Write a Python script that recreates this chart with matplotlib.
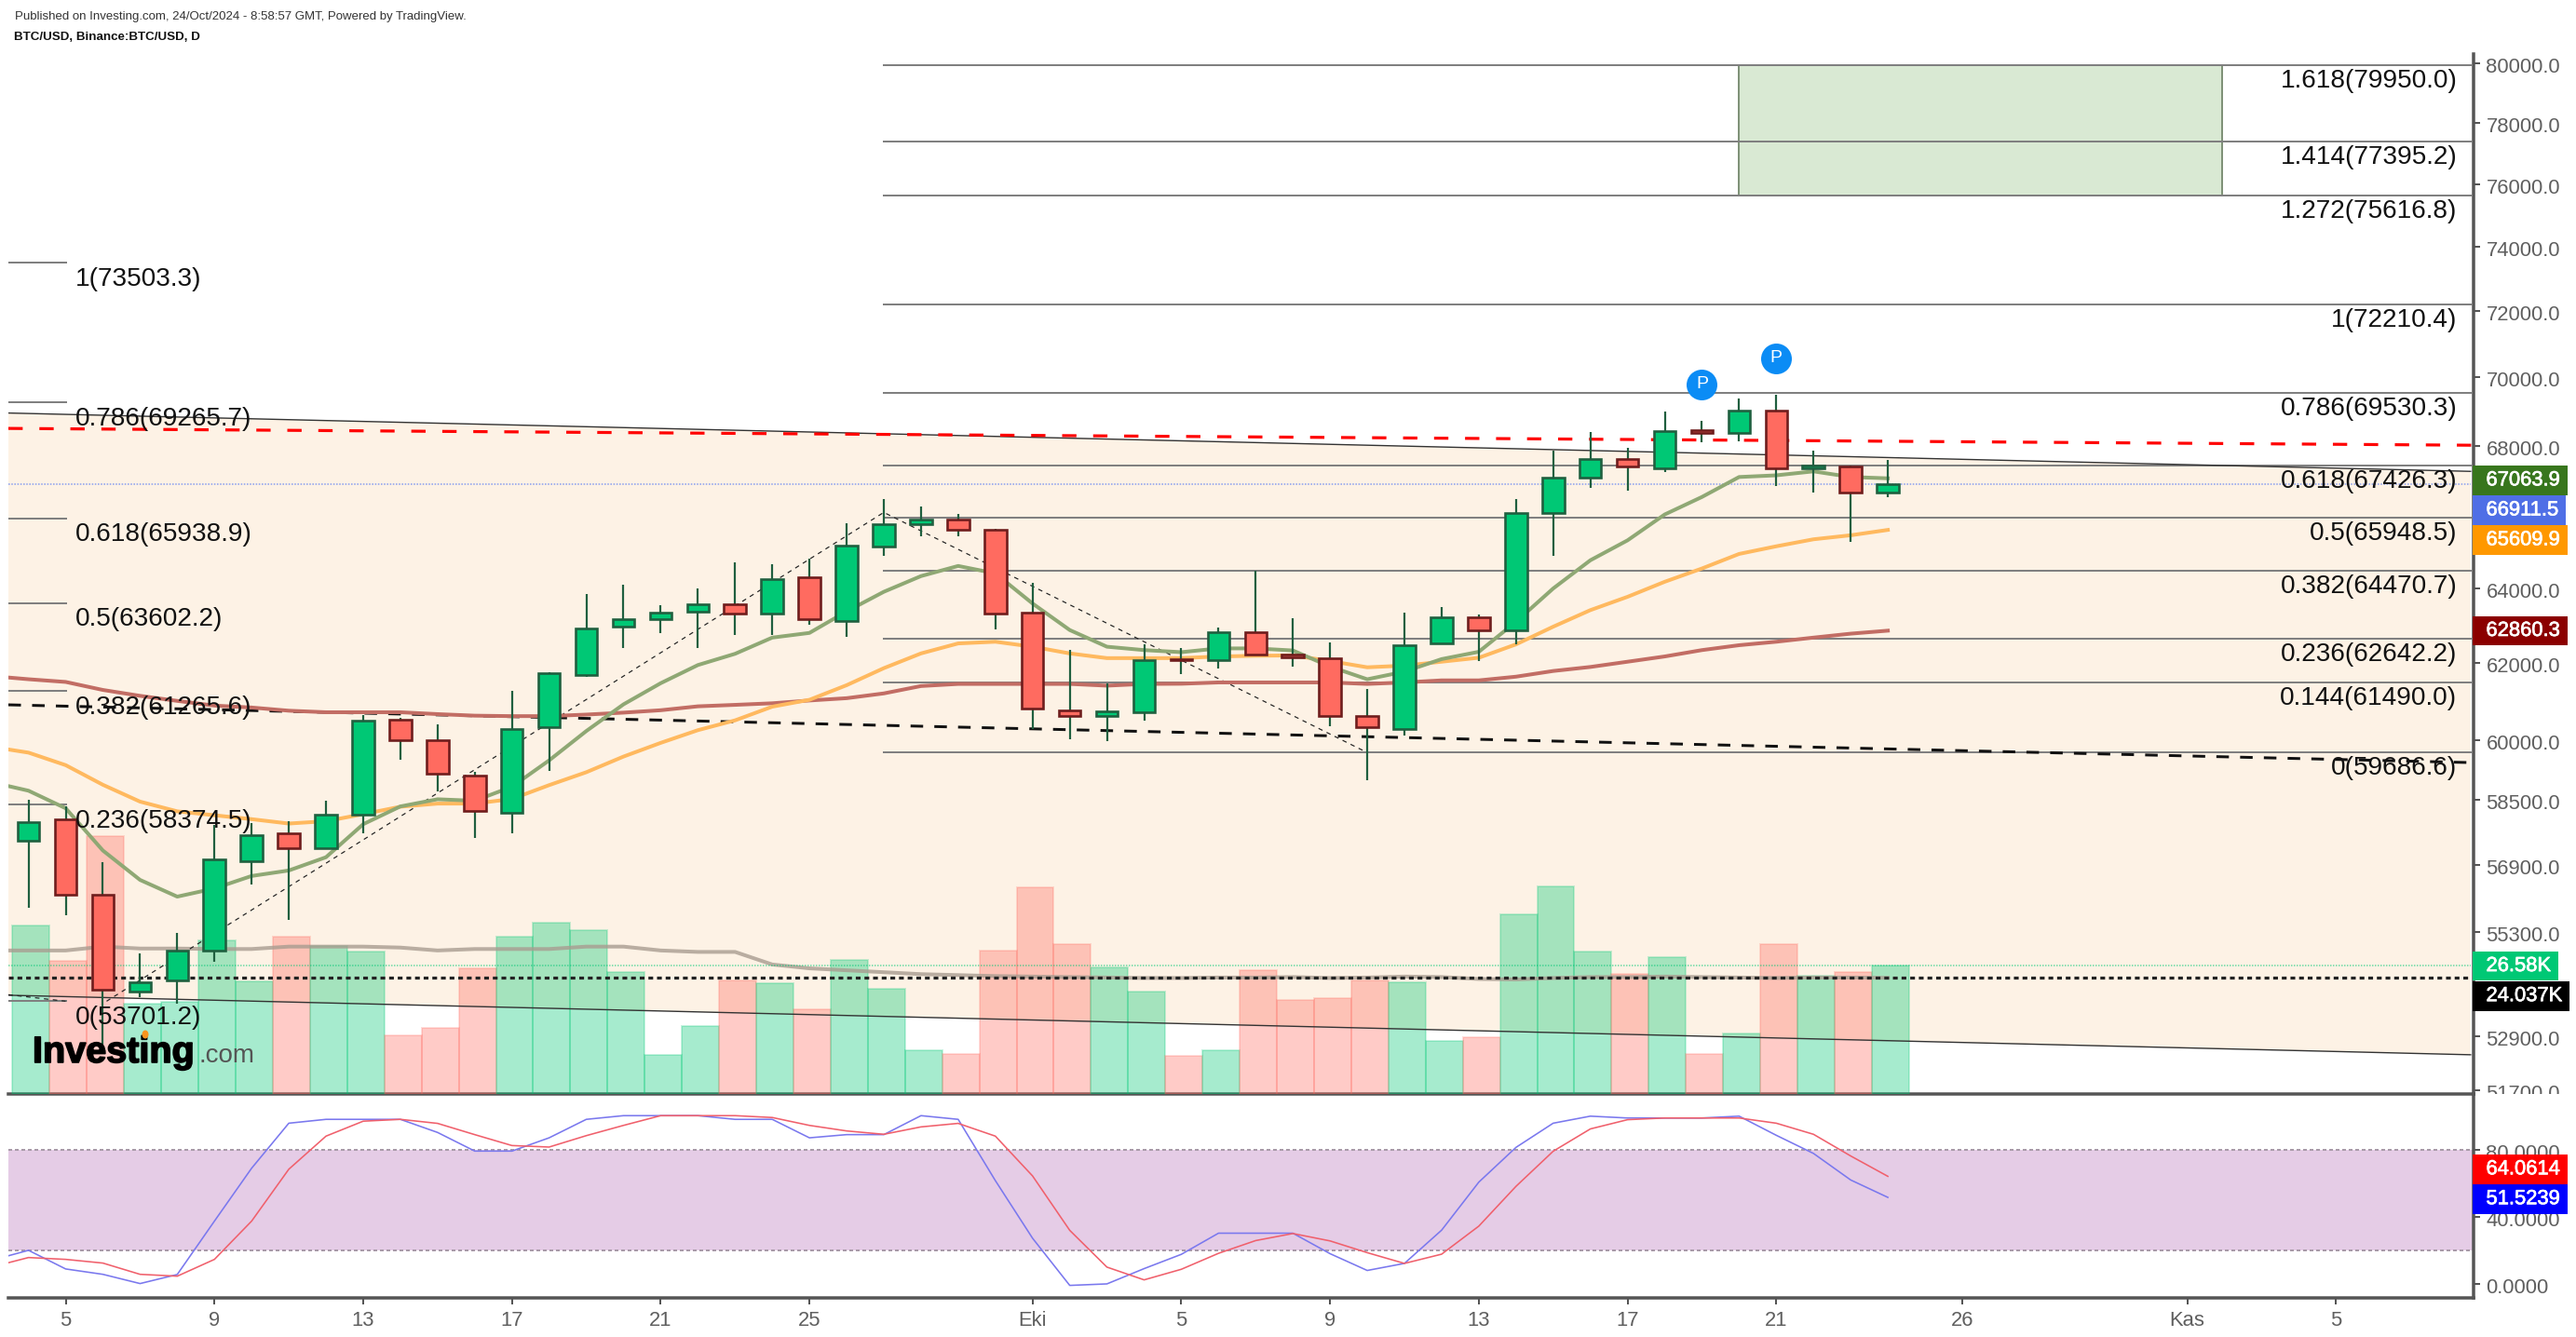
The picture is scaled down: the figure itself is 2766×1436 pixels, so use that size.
import matplotlib
matplotlib.use("Agg")
import matplotlib.pyplot as plt
import matplotlib.patheffects as pe
from matplotlib.patches import Rectangle, Ellipse
from matplotlib.ticker import NullLocator
from matplotlib.transforms import Bbox, ScaledTranslation

plt.rcParams["font.family"] = ["Liberation Sans", "DejaVu Sans"]

W, H = 2766, 1436

# candles, index 0 = 4 Sep
opens = [57490, 58017, 56197, 53923, 54179, 54872, 56987, 57681, 57310, 58131,
         60527, 60004, 59112, 58184, 60334, 61688, 62966, 63166, 63366, 63576,
         63313, 64292, 63113, 65143, 65761, 65900, 65620, 63340, 60769, 60616,
         60707, 62098, 62080, 62831, 62237, 62131, 60633, 60283, 62513, 63224,
         62871, 66071, 67083, 67624, 67348, 68443, 68365, 69036, 67338, 67414, 66656]
closes = [57950, 56190, 53966, 54136, 54877, 57044, 57633, 57300, 58136, 60504,
          60000, 59151, 58223, 60296, 61740, 62923, 63176, 63333, 63576, 63313,
          64248, 63166, 65163, 65771, 65893, 65609, 63313, 60805, 60616, 60735,
          62088, 62070, 62831, 62220, 62158, 60616, 60325, 62473, 63224, 62871,
          66089, 67091, 67624, 67396, 68432, 68357, 69036, 67348, 67422, 66656, 66911.5]
highs = [58506, 58338, 56973, 54812, 55285, 57880, 57925, 57971, 58476, 60647,
         60575, 60395, 59198, 61277, 61760, 63856, 64104, 63546, 63999, 64713,
         64655, 64815, 65797, 66478, 66255, 66055, 65650, 64145, 62350, 61470,
         62498, 62398, 62938, 64470, 63197, 62548, 61321, 63348, 63496, 63296,
         66478, 67865, 68405, 67950, 69000, 68725, 69388, 69498, 67856, 67422, 67586]
lows = [55870, 55697, 52720, 53796, 53654, 54612, 56439, 55600, 57300, 57672,
        59516, 58718, 57566, 57663, 59228, 61627, 62410, 62796, 62410, 62756,
        62756, 63009, 62704, 64882, 65445, 65443, 62905, 60290, 60032, 59983,
        60513, 61712, 61862, 62200, 61908, 60358, 59000, 60129, 62500, 62063,
        62503, 64880, 66800, 66704, 67234, 68088, 68136, 66847, 66648, 65277, 66535]

# volume in thousands
volumes = [34.8, 27.5, 53.3, 18.7, 19.1, 31.7, 23.4, 32.5, 30.7, 29.4,
           12.1, 13.6, 26.0, 32.5, 35.5, 34.0, 25.2, 8.1, 14.0, 23.6,
           22.9, 17.5, 27.8, 21.7, 9.0, 8.3, 29.7, 42.8, 31.0, 26.2,
           21.2, 7.9, 9.0, 25.6, 19.4, 19.8, 23.5, 23.2, 10.9, 11.7,
           37.1, 42.9, 29.4, 24.8, 28.3, 8.2, 12.5, 31.0, 24.4, 25.2, 26.58]

# moving averages, index -1 up to 50
ma_green = [58940, 58727, 58290, 57253, 56542, 56142, 56337, 56637, 56769, 57090,
            57897, 58336, 58514, 58476, 58826, 59488, 60235, 60922, 61472, 61948,
            62245, 62675, 62800, 63376, 63907, 64335, 64613, 64409, 63590, 62877,
            62433, 62343, 62288, 62388, 62388, 62333, 61908, 61575, 61775, 62105,
            62298, 63098, 63997, 64769, 65320, 66042, 66535, 67102, 67150, 67263,
            67102, 67063.9]
ma_orange = [59833, 59685, 59368, 58875, 58455, 58214, 58117, 58021, 57913, 57971,
             58145, 58329, 58406, 58406, 58521, 58866, 59190, 59585, 59933, 60257,
             60509, 60862, 61040, 61420, 61866, 62255, 62520, 62565, 62433, 62255,
             62131, 62131, 62131, 62175, 62193, 62203, 62053, 61889, 61933, 62036,
             62141, 62495, 62966, 63411, 63771, 64180, 64543, 64944, 65155, 65349,
             65461, 65609.9]
ma_red = [61659, 61576, 61505, 61296, 61143, 61012, 60890, 60840, 60758, 60718,
          60718, 60718, 60670, 60630, 60618, 60618, 60658, 60708, 60770, 60871,
          60909, 60950, 61022, 61082, 61206, 61398, 61453, 61453, 61453, 61453,
          61408, 61453, 61458, 61492, 61492, 61492, 61492, 61453, 61492, 61546,
          61546, 61643, 61792, 61898, 62036, 62175, 62343, 62473, 62565, 62675,
          62780, 62860.3]
ma_volume = [29.7, 29.7, 29.7, 30.5, 30.1, 30.1, 30.0, 30.0, 30.5, 30.5,
             30.5, 30.3, 29.7, 30.0, 30.0, 30.0, 30.5, 30.5, 29.7, 29.4,
             29.4, 26.8, 26.0, 25.6, 25.2, 24.8, 24.6, 24.4, 24.3, 24.2,
             24.1, 24.0, 24.0, 24.1, 24.1, 24.2, 24.0, 24.1, 24.3, 24.2,
             23.8, 23.7, 24.0, 24.2, 24.2, 24.3, 24.2, 24.1, 24.0, 24.1,
             24.1, 24.037]

stoch_k = [14, 20, 8.9, 5.7, 0.2, 5.6, 37.4, 68.9, 95.7, 98, 98, 98, 90.2, 79.1, 79.1,
           87, 98, 100.2, 100.2, 100.2, 98, 98, 87, 88.9, 88.9, 100.2, 98, 61.5, 27.2,
           -0.9, 0, 9.1, 17.6, 30.2, 30.2, 30.2, 18, 8, 12.2, 32, 60.6, 81.3, 95.7,
           99.9, 98.8, 98.8, 98.8, 99.9, 88.5, 77.7, 61.9, 51.5239]
stoch_d = [10, 15.7, 14.6, 12.4, 5.7, 4.6, 14.6, 37.4, 68.3, 88, 96.9, 98, 95.6, 88.9,
           82.4, 81.5, 88.3, 94.4, 100.2, 100.2, 100.2, 99.1, 94.4, 91.1, 89.1, 93.5,
           95.6, 88, 64.3, 31.9, 10, 2.4, 8.7, 18.2, 25.8, 30, 25.6, 18.6, 12.2, 17.7,
           34.4, 58.1, 79, 92.3, 97.8, 98.8, 98.8, 98.8, 95.7, 89.1, 76.2, 64.0614]

# fib levels
fib_left_names = ["1", "0.786", "0.618", "0.5", "0.382", "0.236", "0"]
fib_left_values = [73503.3, 69265.7, 65938.9, 63602.2, 61265.6, 58374.5, 53701.2]
fib_right_names = ["1.618", "1.414", "1.272", "1", "0.786", "0.618", "0.5", "0.382", "0.236", "0.144", "0"]
fib_right_values = [79950.0, 77395.2, 75616.8, 72210.4, 69530.3, 67426.3, 65948.5, 64470.7, 62642.2, 61490.0, 59686.6]

# trend lines as (start, end) prices
channel_top = [68952, 67263]
channel_bottom = [53838, 52493]
red_dash = [68502, 68014]
black_dash = [60910, 59433]
zigzag_x = [2.1, 23, 36]
zigzag_y = [53701.2, 66100, 59686.6]
zigzag_left_y = [53850, 53701.2]
pivot_x = [45, 47]
pivot_y = [69797, 70578]

price_ticks = [80000, 78000, 76000, 74000, 72000, 70000, 68000, 64000, 62000,
               60000, 58500, 56900, 55300, 52900, 51700]
date_ticks = [1, 5, 9, 13, 17, 21, 27, 31, 35, 39, 43, 47, 52, 58.05, 62.05]
date_labels = ["5", "9", "13", "17", "21", "25", "Eki", "5", "9", "13", "17", "21", "26", "Kas", "5"]
stoch_ticks = [80, 40, 0]

AXIS_X = 2656
XL, XR = -0.541, 65.75
XEND = 65.67
C_GREEN, C_RED = "#00c875", "#ff6b60"
GRID_GREY = "#808080"
AXIS_GREY = "#555555"
TICK_TEXT = "#5f5f5f"


def px(v):
    return v * 0.72


def axes_at(x0, y0, x1, y1, **kw):
    return fig.add_axes([x0 / W, 1 - y1 / H, (x1 - x0) / W, (y1 - y0) / H], **kw)


fig = plt.figure(figsize=(W / 100, H / 100), dpi=100)

# three layers: shaded channel, volume, price
ax_bg = axes_at(9, 58, AXIS_X, 1175)
ax_vol = axes_at(9, 58, AXIS_X, 1175)
ax = axes_at(9, 58, AXIS_X, 1175)
ax_st = axes_at(9, 1175, AXIS_X, 1393.5)
for a in (ax_bg, ax_vol, ax):
    a.patch.set_alpha(0)
    a.set_xlim(XL, XR)
ax_st.set_xlim(XL, XR)
for a in (ax_bg, ax):
    a.set_yscale("log")
    a.set_ylim(51625, 80317)
ax_vol.set_ylim(0, 215.2)
ax_st.set_ylim(-8.06, 113.1)
ax_bg.set_zorder(1)
ax_vol.set_zorder(2)
ax.set_zorder(3)
ax_st.set_zorder(1)

for a in (ax_bg, ax_vol):
    a.axis("off")

# channel fill and target box
ax_bg.fill([XL, XEND, XEND, XL],
           [channel_top[0], channel_top[1], channel_bottom[1], channel_bottom[0]],
           color="#fdf2e5", lw=0)
ax_bg.add_patch(Rectangle((46, fib_right_values[2]), 13, fib_right_values[0] - fib_right_values[2],
                          fc="#d9e9d3", ec="#7f9278", lw=px(2)))

# volume
days = list(range(len(closes)))
for i in days:
    c = C_GREEN if closes[i] >= opens[i] else C_RED
    ax_vol.bar(i + 0.07, volumes[i], width=1.0, color=matplotlib.colors.to_rgba(c, 0.35),
               edgecolor=matplotlib.colors.to_rgba(c, 0.22), lw=px(2))
ma_x = list(range(-1, len(closes)))
ax_vol.plot(ma_x, ma_volume, color="#a89c90", lw=px(4), alpha=0.8)
ax_vol.plot([XL, XEND], [volumes[-1]] * 2, color=C_GREEN, lw=px(1.5), ls=(0, (1, 1)), alpha=0.6)
ax_vol.plot([XL, XEND], [ma_volume[-1]] * 2, color="#222222", lw=px(3.2), ls=(0, (1.6, 1.3)))

# fib lines
for v in fib_left_values:
    ax.plot([XL, 1.0], [v, v], color=GRID_GREY, lw=px(2), zorder=2)
for v in fib_right_values:
    ax.plot([23, XEND], [v, v], color=GRID_GREY, lw=px(2), zorder=2)

# trend lines
ax.plot([XL, XEND], channel_top, color="#333333", lw=px(1.4), zorder=3)
ax.plot([XL, XEND], channel_bottom, color="#333333", lw=px(1.4), zorder=3)
ax.plot([XL, XR], red_dash, color="#ff0000", lw=px(3.2), ls=(0, (4.8, 5.6)), zorder=3)
ax.plot([XL, XEND], black_dash, color="#111111", lw=px(3), ls=(0, (4.5, 4)), zorder=3)
ax.plot([XL, XEND], [closes[-1]] * 2, color="#8fa3ee", lw=px(1.6), ls=(0, (1, 1)), zorder=3)
ax.plot(zigzag_x, zigzag_y, color="#222222", lw=px(1.2), ls=(0, (4, 4)), zorder=3)
ax.plot([XL, 1.0], zigzag_left_y, color="#222222", lw=px(1.2), ls=(0, (4, 4)), zorder=3)

# moving averages
ax.plot(ma_x, ma_red, color="#c26d64", lw=px(4), zorder=4)
ax.plot(ma_x, ma_orange, color="#ffb95f", lw=px(4), zorder=4)
ax.plot(ma_x, ma_green, color="#8fa874", lw=px(4), zorder=4)

# candles
ax.vlines(days, lows, highs, color="#1f5f3f", lw=px(2.2), zorder=5)
for i in days:
    up = closes[i] >= opens[i]
    low, high = min(opens[i], closes[i]), max(opens[i], closes[i])
    ax.bar(i, high - low, bottom=low, width=0.59,
           color=C_GREEN if up else C_RED, edgecolor="#1f5f3f" if up else "#6e1c1c",
           lw=px(2.6), zorder=6)

# publication markers
ax.scatter(pivot_x, pivot_y, s=565, color="#0b8cf5", lw=0, zorder=7)
for x, y in zip(pivot_x, pivot_y):
    ax.text(x, y, "P", color="white", fontsize=14, ha="center", va="center", zorder=8)

# fib labels
for n, v in zip(fib_left_names, fib_left_values):
    ax.annotate(f"{n}({v})", xy=(1.26, v), xytext=(0, px(-17.5)), textcoords="offset points",
                ha="left", va="center", fontsize=20.2, color="#111111", zorder=9)
for n, v in zip(fib_right_names, fib_right_values):
    ax.annotate(f"{n}({v})", xy=(65.31, v), xytext=(0, px(-17)), textcoords="offset points",
                ha="right", va="center", fontsize=20.2, color="#111111", zorder=9)

# stochastic panel
ax_st.axhspan(20, 80, color="#e5cce6", lw=0, zorder=1)
for lv in (20, 80):
    ax_st.axhline(lv, color="#a89aa8", lw=px(2), ls=(0, (2, 1.5)), zorder=2)
ax_st.plot(ma_x, stoch_k, color="#7a78ee", lw=px(1.6), zorder=3)
ax_st.plot(ma_x, stoch_d, color="#f0606c", lw=px(1.6), zorder=4)

# axes furniture
for a in (ax, ax_st):
    for side in ("left", "top", "bottom"):
        a.spines[side].set_visible(False)
    a.spines["right"].set_color(AXIS_GREY)
    a.spines["right"].set_linewidth(px(3.5))
    a.yaxis.tick_right()
    a.yaxis.set_minor_locator(NullLocator())
ax_st.spines["top"].set_visible(True)
ax_st.spines["bottom"].set_visible(True)
for side in ("top", "bottom"):
    ax_st.spines[side].set_color(AXIS_GREY)
    ax_st.spines[side].set_linewidth(px(3.5))

ax.set_xticks([])
ax.set_yticks(price_ticks)
ax.set_yticklabels([f"{t:.1f}" for t in price_ticks])
ax_st.set_yticks(stoch_ticks)
ax_st.set_yticklabels([f"{t:.4f}" for t in stoch_ticks])
ax_st.set_xticks(date_ticks)
ax_st.set_xticklabels(date_labels)
for a in (ax, ax_st):
    a.tick_params(axis="y", length=px(7), width=px(2), color=AXIS_GREY, pad=px(6.5),
                  labelsize=15.8, labelcolor=TICK_TEXT)
ax_st.tick_params(axis="x", length=px(7), width=px(2), color=AXIS_GREY, pad=px(8),
                  labelsize=15.8, labelcolor=TICK_TEXT)

# tick labels sit a little under their ticks, the lowest price label is cut by the panel edge
fig.canvas.draw()
nudge = ScaledTranslation(0, -2 / 100, fig.dpi_scale_trans)
cut = Bbox.from_extents(AXIS_X + 1, H - 1175, W, H)
for lab in ax.get_yticklabels():
    lab.set_transform(lab.get_transform() + nudge)
    lab.set_clip_box(cut)
    lab.set_clip_on(True)
for lab in ax_st.get_yticklabels():
    lab.set_transform(lab.get_transform() + nudge)


# last value tags on the price scale
def tag(text, y0, y1, x1, color):
    fig.add_artist(Rectangle((2655 / W, 1 - y1 / H), (x1 - 2655) / W, (y1 - y0) / H,
                             transform=fig.transFigure, fc=color, lw=0, zorder=10))
    t = fig.text(2669.5 / W, 1 - (y0 + y1) / 2 / H, text, color="white", fontsize=15.8,
                 ha="left", va="center", zorder=11)
    t.set_path_effects([pe.withStroke(linewidth=0.5, foreground="white")])


tag("67063.9", 500, 531.7, 2756.7, "#38761d")
tag("66911.5", 532, 564, 2755, "#4f6fe6")
tag("65609.9", 564, 596, 2756.7, "#ff9800")
tag("62860.3", 662, 693, 2756.7, "#8b0000")
tag("26.58K", 1021.8, 1053.3, 2746.7, "#00c875")
tag("24.037K", 1053.7, 1085.7, 2759, "#000000")
tag("64.0614", 1240, 1271.6, 2756.7, "#ff0000")
tag("51.5239", 1272, 1303.6, 2756.7, "#0000ff")

# header
fig.text(16 / W, 1 - 17.5 / H, "Published on Investing.com, 24/Oct/2024 - 8:58:57 GMT, Powered by TradingView.",
         fontsize=9.5, color="#333333", ha="left", va="center")
fig.text(15 / W, 1 - 40 / H, "BTC/USD, Binance:BTC/USD, D", fontsize=9.66, fontweight="bold",
         color="#111111", ha="left", va="center")

# logo
logo = fig.text(35 / W, 1 - 1141 / H, "Investing", fontsize=28.5, fontweight="bold", color="#000000",
                ha="left", va="baseline", zorder=12)
logo.set_path_effects([pe.withStroke(linewidth=1.2, foreground="#000000")])
fig.text(214 / W, 1 - 1141 / H, ".com", fontsize=20, color="#555555",
         ha="left", va="baseline", zorder=12)
fig.add_artist(Ellipse((156 / W, 1 - 1111 / H), 7 / W, 9 / H, transform=fig.transFigure,
                       fc="#f7941d", lw=0, zorder=13))

fig.savefig("out.png", dpi=100)
